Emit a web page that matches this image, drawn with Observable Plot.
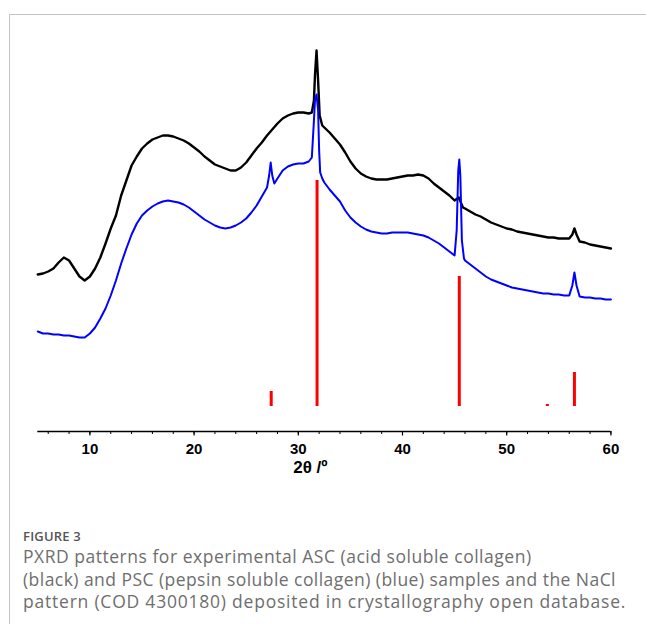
<!DOCTYPE html>
<html>
<head>
<meta charset="utf-8">
<script src="https://cdn.jsdelivr.net/npm/d3@7"></script>
<script src="https://cdn.jsdelivr.net/npm/@observablehq/plot@0.6"></script>
<style>
  body { margin: 0; background: #fff; }
  #fig { position: relative; width: 646px; height: 624px; overflow: hidden; background: #fff; }
  #box { position: absolute; left: 9px; top: 14px; width: 700px; height: 700px; border: 1px solid #c4c4c4; }
  #chart { position: absolute; left: 0; top: 0; }
  #cap { position: absolute; left: 23px; top: 527px; font-family: "Open Sans", sans-serif; color: #6e6e6e; }
  #cap .fig { font-size: 13px; font-weight: 600; color: #555; letter-spacing: 0.2px; line-height: 18px; }
  #cap .txt { font-size: 17.5px; line-height: 22.5px; white-space: nowrap; }
  #cap .l1 { letter-spacing: 0.52px; }
  #cap .l2 { letter-spacing: 0.45px; }
  #cap .l3 { letter-spacing: 0.78px; }
</style>
</head>
<body>
<div id="fig">
  <div id="box"></div>
  <div id="chart"></div>
  <div id="cap">
    <div class="fig">FIGURE 3</div>
    <div class="txt"><div class="l1">PXRD patterns for experimental ASC (acid soluble collagen)</div><div class="l2">(black) and PSC (pepsin soluble collagen) (blue) samples and the NaCl</div><div class="l3">pattern (COD 4300180) deposited in crystallography open database.</div></div>
  </div>
</div>
<script>
// ASC (acid soluble collagen), black trace — 2θ (°) and intensity (a.u.)
const ascTheta = [5.0,5.5,6.0,6.5,7.0,7.5,8.0,8.5,9.0,9.5,10.0,10.5,11.0,11.5,12.0,12.5,13.0,13.5,14.0,14.5,15.0,15.5,16.0,16.5,17.0,17.5,18.0,18.5,19.0,19.5,20.0,20.5,21.0,21.5,22.0,22.5,23.0,23.5,24.0,24.5,25.0,25.5,26.0,26.5,27.0,27.5,28.0,28.5,29.0,29.5,30.0,30.5,31.0,31.3,31.5,31.6,31.75,31.9,32.05,32.3,32.5,33.0,33.5,34.0,34.5,35.0,35.5,36.0,36.5,37.0,37.5,38.0,38.5,39.0,39.5,40.0,40.5,41.0,41.5,42.0,42.5,43.0,43.5,44.0,44.5,45.0,45.4,45.8,46.0,46.5,47.0,47.5,48.0,48.5,49.0,49.5,50.0,50.5,51.0,51.5,52.0,52.5,53.0,53.5,54.0,54.5,55.0,55.5,56.0,56.3,56.5,56.7,57.0,57.5,58.0,58.5,59.0,59.5,60.0];
const ascIntensity = [132,133,135,138,144,149,146,138,130,126,130,138,149,163,178,191,211,226,241,250,258,263,267,269,271,271,270,268,266,263,259,255,250,246,242,240,238,236,236,239,244,251,258,264,271,277,283,288,291,293,294,294,293,294,306,331,356,326,291,281,279,274,268,262,254,245,238,233,230,228,227,227,227,228,229,230,231,231,232,231,228,223,219,215,211,206,209,199,198,195,192,190,187,184,182,180,178,177,175,174,173,172,171,170,169,169,168,168,168,172,178,172,165,164,162,161,160,159,158];

// PSC (pepsin soluble collagen), blue trace
const pscTheta = [5.0,5.5,6.0,6.5,7.0,7.5,8.0,8.5,9.0,9.5,10.0,10.5,11.0,11.5,12.0,12.5,13.0,13.5,14.0,14.5,15.0,15.5,16.0,16.5,17.0,17.5,18.0,18.5,19.0,19.5,20.0,20.5,21.0,21.5,22.0,22.5,23.0,23.5,24.0,24.5,25.0,25.5,26.0,26.5,27.0,27.2,27.35,27.5,27.7,28.0,28.5,29.0,29.5,30.0,30.5,31.0,31.3,31.5,31.6,31.75,31.9,32.0,32.1,32.3,32.5,33.0,33.5,34.0,34.5,35.0,35.5,36.0,36.5,37.0,37.5,38.0,38.5,39.0,39.5,40.0,40.5,41.0,41.5,42.0,42.5,43.0,43.5,44.0,44.5,45.0,45.2,45.35,45.45,45.55,45.7,45.9,46.0,46.5,47.0,47.5,48.0,48.5,49.0,49.5,50.0,50.5,51.0,51.5,52.0,52.5,53.0,53.5,54.0,54.5,55.0,55.5,56.0,56.3,56.5,56.7,57.0,57.5,58.0,58.5,59.0,59.5,60.0];
const pscIntensity = [75,73,73,72,72,71,71,70,69,69,73,79,88,98,111,126,143,158,172,183,191,196,200,203,205,206,205,204,202,199,195,191,187,184,181,179,178,179,181,184,188,194,201,210,219,231,244,231,223,228,236,240,242,243,243,245,249,286,306,312,296,256,234,228,224,217,211,205,196,189,184,180,177,175,174,173,173,174,174,174,174,173,172,171,169,166,163,159,155,151,176,236,247,231,166,148,146,142,138,134,130,127,125,123,121,119,118,117,116,115,114,113,113,112,112,111,111,121,134,121,110,109,109,108,108,107,107];

// NaCl reference pattern (COD 4300180), red sticks
const naclTheta = [27.4, 31.8, 45.45, 53.9, 56.5];
const naclIntensity = [15, 226, 130, 2, 34];

// axis ticks
const minorTicks = [6,8,10,12,14,16,18,20,22,24,26,28,30,32,34,36,38,40,42,44,46,48,50,52,54,56,58,60];
const majorTicks = [10,20,30,40,50,60];
const xTitle = "2θ /º";
const yMin = -25, yMax = 360;

const asc = ascTheta.map((t, i) => ({theta: t, I: ascIntensity[i]}));
const psc = pscTheta.map((t, i) => ({theta: t, I: pscIntensity[i]}));
const nacl = naclTheta.map((t, i) => ({theta: t, I: naclIntensity[i]}));

const chart = Plot.plot({
  width: 646,
  height: 500,
  marginLeft: 37.3,
  marginRight: 35.6,
  marginTop: 46,
  marginBottom: 69,
  x: {domain: [5, 60], label: null},
  y: {domain: [yMin, yMax], axis: null},
  style: {fontFamily: "'Liberation Sans', Arial, sans-serif", background: "transparent", color: "#000", overflow: "visible"},
  marks: [
    Plot.ruleY([yMin], {stroke: "#000", strokeWidth: 1.3}),
    Plot.axisX({ticks: minorTicks, tickSize: 3, tickFormat: () => "", label: null, strokeWidth: 1}),
    Plot.axisX({ticks: majorTicks, tickSize: 4.5, tickPadding: 7.5, fontSize: 15, fontWeight: "bold", label: null, strokeWidth: 1.2}),
    Plot.ruleX(nacl, {x: "theta", y1: 0, y2: "I", stroke: "#ff0000", strokeWidth: 3}),
    Plot.line(asc, {x: "theta", y: "I", stroke: "#000000", strokeWidth: 2.4}),
    Plot.line(psc, {x: "theta", y: "I", stroke: "#0000ff", strokeWidth: 2}),
    Plot.text([xTitle], {frameAnchor: "bottom", dx: -14, dy: 29, lineAnchor: "top", fontSize: 17, fontWeight: "bold", fill: "#000"})
  ]
});
document.getElementById("chart").appendChild(chart);
</script>
</body>
</html>
